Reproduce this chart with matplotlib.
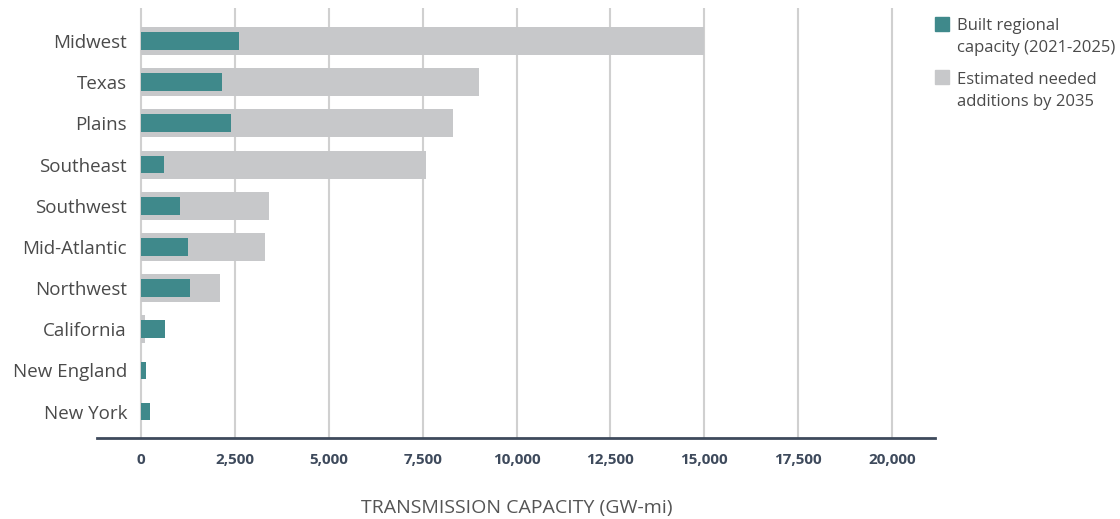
import matplotlib
matplotlib.use("Agg")
import matplotlib.pyplot as plt
from matplotlib.patches import Rectangle

regions = ["Midwest", "Texas", "Plains", "Southeast", "Southwest", "Mid-Atlantic",
           "Northwest", "California", "New England", "New York"]
needed = [15000, 9000, 8300, 7600, 3400, 3300, 2100, 100, 0, 0]
built = [2600, 2150, 2400, 600, 1050, 1250, 1300, 650, 120, 250]
xticks = [0, 2500, 5000, 7500, 10000, 12500, 15000, 17500, 20000]
xtick_labels = ["0", "2,500", "5,000", "7,500", "10,000", "12,500", "15,000", "17,500", "20,000"]
legend_labels = ["Built regional\ncapacity (2021-2025)", "Estimated needed\nadditions by 2035"]

TEAL = "#3f898b"
GREY = "#c7c8ca"
DARK = "#3e4a5c"
TXT = "#4a4a4a"

plt.rcParams['font.family'] = ['Open Sans', 'DejaVu Sans']

W, H = 1120, 519
fig = plt.figure(figsize=(W/100, H/100), dpi=100)
ax = fig.add_axes([97/W, 1-438/H, (935-97)/W, (438-8)/H])

ypos = list(range(len(regions)))
ax.barh(ypos, needed, height=0.68, color=GREY, zorder=2)
ax.barh(ypos, built, height=0.43, color=TEAL, zorder=3)

ax.set_xlim(-1172, 21145)
ax.set_ylim(9.64, -0.8)

ax.set_xticks(xticks)
ax.set_xticklabels(xtick_labels, fontsize=11, fontweight='bold', color=DARK)
ax.set_yticks(ypos)
ax.set_yticklabels(regions, fontsize=13.5, color=TXT)
ax.tick_params(axis='y', length=0, pad=-21.6)
ax.tick_params(axis='x', length=0, pad=10.5)

for xv in xticks:
    ax.axvline(xv, color="#d0d0d0", lw=1.5, zorder=1)

for s in ['top', 'right', 'left']:
    ax.spines[s].set_visible(False)
ax.spines['bottom'].set_color(DARK)
ax.spines['bottom'].set_linewidth(2.0)

fig.text(517/W, 1-508/H, "TRANSMISSION CAPACITY (GW-mi)",
         ha='center', va='center', fontsize=14, color="#555555")

# legend (manual)
for (lab, col, sq_top, base) in [(legend_labels[0], TEAL, 17, 52), (legend_labels[1], GREY, 70, 106)]:
    fig.patches.append(Rectangle((935/W, 1-(sq_top+14)/H), 14/W, 14/H,
                                 transform=fig.transFigure, color=col))
    fig.text(957/W, 1-base/H, lab, ha='left', va='baseline', fontsize=12,
             color=TXT, linespacing=1.5)

fig.savefig("out.png", dpi=100)
